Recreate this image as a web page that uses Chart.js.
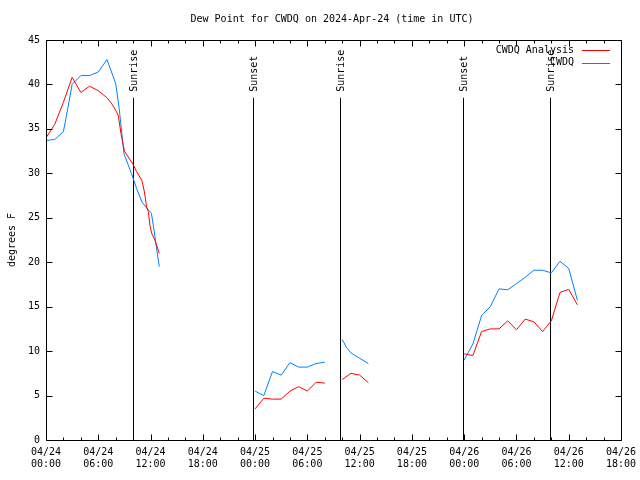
<!DOCTYPE html>
<html>
<head>
<meta charset="utf-8">
<script src="https://cdn.jsdelivr.net/npm/chart.js@4/dist/chart.umd.min.js"></script>
<style>
  html, body { margin: 0; padding: 0; background: #fff; }
  canvas { display: block; }
</style>
</head>
<body>
<canvas id="dewChart" width="640" height="480"></canvas>
<script>
// hours since 04/24 00:00 UTC; null splits the line
const analysisHours = [0, 1, 2, 3, 4, 5, 6, 7, 7.5, 8, 8.3, 8.6, 9, 10, 10.4, 11, 11.3, 11.55, 11.75, 11.95, 12.15, 12.5, 13,
    18,
    24, 25, 26, 27, 28, 29, 30, 31, 32,
    33,
    34, 35, 36, 37,
    42,
    48, 49, 50, 51, 52, 53, 54, 55, 56, 57, 58, 59, 60, 61];
const analysisDew = [34.0, 35.5, 38.0, 40.8, 39.1, 39.8, 39.3, 38.5, 37.9, 37.1, 36.5, 34.5, 32.5, 31.0, 30.2, 29.2, 27.9, 26.2, 25.7, 24.0, 23.2, 22.5, 21.0,
    null,
    3.5, 4.7, 4.6, 4.6, 5.5, 6.0, 5.5, 6.5, 6.4,
    null,
    6.8, 7.5, 7.3, 6.45,
    null,
    9.7, 9.5, 12.2, 12.5, 12.5, 13.4, 12.4, 13.6, 13.3, 12.2, 13.4, 16.6, 16.95, 15.2];

const obsHours = [0, 1, 2, 2.5, 3, 4, 5, 6, 7, 8, 8.4, 8.95, 9.8, 10.4, 11, 11.55, 12.1, 12.4, 12.7, 13,
    18,
    24, 25, 26, 27, 28, 29, 30, 31, 32,
    33,
    34, 34.5, 35, 36, 37,
    42,
    48, 49, 50, 51, 52, 53, 54, 55, 56, 57, 58, 59, 60, 61];
const obsDew = [33.7, 33.8, 34.7, 37.3, 40.0, 41.0, 41.0, 41.4, 42.8, 40.1, 37.3, 32.2, 30.0, 28.3, 26.8, 26.1, 25.5, 23.6, 21.5, 19.5,
    null,
    5.5, 5.0, 7.7, 7.3, 8.7, 8.2, 8.2, 8.6, 8.75,
    null,
    11.3, 10.4, 9.8, 9.2, 8.6,
    null,
    9.0, 10.8, 14.0, 15.0, 17.0, 16.9, 17.6, 18.3, 19.1, 19.1, 18.8, 20.1, 19.3, 15.7];

const eventHours = [9.95, 23.8, 33.8, 47.9, 57.8];
const eventLabels = ["Sunrise", "Sunset", "Sunrise", "Sunset", "Sunrise"];
const eventTop = 38.5;

const dayLabels = ["04/24", "04/25", "04/26"];
const timeLabels = ["00:00", "06:00", "12:00", "18:00"];

const seriesNames = ["CWDQ Analysis", "CWDQ"];
const seriesColors = ["#ff0000", "#0080ff"];

const fontFamily = "'DejaVu Sans Mono', monospace";
Chart.defaults.font.family = fontFamily;
Chart.defaults.font.size = 10;
Chart.defaults.color = "#000";

function toPoints(hours, values)
{
    return hours.map((h, i) => ({x: h, y: values[i]}));
}

const gnuplotLook =
{
    id: "gnuplotLook",
    beforeDatasetsDraw(chart)
    {
        const ctx = chart.ctx;
        const x = chart.scales.x;
        const y = chart.scales.y;
        const area = chart.chartArea;
        ctx.save();
        ctx.strokeStyle = "#000";
        ctx.lineWidth = 1;
        ctx.fillStyle = "#000";
        ctx.font = "10px " + fontFamily;
        eventHours.forEach((h, i) =>
        {
            const px = Math.round(x.getPixelForValue(h)) + 0.5;
            const top = y.getPixelForValue(eventTop);
            ctx.beginPath();
            ctx.moveTo(px, area.bottom);
            ctx.lineTo(px, top);
            ctx.stroke();
            ctx.save();
            ctx.translate(px + 1, top - 6);
            ctx.rotate(-Math.PI / 2);
            ctx.textAlign = "left";
            ctx.textBaseline = "middle";
            ctx.fillText(eventLabels[i], 0, 0);
            ctx.restore();
        });
        ctx.restore();
    },
    afterDatasetsDraw(chart)
    {
        const ctx = chart.ctx;
        const x = chart.scales.x;
        const y = chart.scales.y;
        const area = chart.chartArea;
        ctx.save();
        ctx.strokeStyle = "#000";
        ctx.lineWidth = 1;
        const l = Math.round(area.left) + 0.5;
        const r = Math.round(area.right) + 0.5;
        const t = Math.round(area.top) + 0.5;
        const b = Math.round(area.bottom) + 0.5;
        ctx.beginPath();
        ctx.rect(l, t, r - l, b - t);
        ctx.stroke();

        ctx.beginPath();
        for(const tick of x.ticks)
        {
            const px = Math.round(x.getPixelForValue(tick.value)) + 0.5;
            const len = tick.value % 6 === 0 ? 6 : 3;
            ctx.moveTo(px, b);
            ctx.lineTo(px, b - len);
            ctx.moveTo(px, t);
            ctx.lineTo(px, t + len);
        }
        for(const tick of y.ticks)
        {
            const py = Math.round(y.getPixelForValue(tick.value)) + 0.5;
            ctx.moveTo(l, py);
            ctx.lineTo(l + 6, py);
            ctx.moveTo(r, py);
            ctx.lineTo(r - 6, py);
        }
        ctx.stroke();

        // title and axis title
        ctx.fillStyle = "#000";
        ctx.font = "10px " + fontFamily;
        ctx.textAlign = "center";
        ctx.textBaseline = "middle";
        ctx.fillText("Dew Point for CWDQ on 2024-Apr-24 (time in UTC)", 332, 19);
        ctx.save();
        ctx.translate(12, 240);
        ctx.rotate(-Math.PI / 2);
        ctx.fillText("degrees F", 0, 0);
        ctx.restore();

        // legend
        ctx.textAlign = "right";
        seriesNames.forEach((name, i) =>
        {
            const ly = 50 + i * 12.5;
            ctx.fillStyle = "#000";
            ctx.fillText(name, 574, ly);
            ctx.strokeStyle = seriesColors[i];
            ctx.beginPath();
            ctx.moveTo(582, Math.round(ly) + 0.5);
            ctx.lineTo(610, Math.round(ly) + 0.5);
            ctx.stroke();
        });
        ctx.restore();
    }
};

const configObject =
{
    type: "line",
    data:
    {
        datasets:
        [
            {
                label: seriesNames[0],
                data: toPoints(analysisHours, analysisDew),
                borderColor: seriesColors[0],
                borderWidth: 1,
                pointRadius: 0,
                tension: 0,
                spanGaps: false,
            },
            {
                label: seriesNames[1],
                data: toPoints(obsHours, obsDew),
                borderColor: seriesColors[1],
                borderWidth: 1,
                pointRadius: 0,
                tension: 0,
                spanGaps: false,
            }
        ]
    },
    options:
    {
        responsive: false,
        animation: false,
        devicePixelRatio: 1,
        layout:
        {
            padding: {left: 0, right: 19, top: 40, bottom: 0},
        },
        plugins:
        {
            legend: {display: false},
            tooltip: {enabled: false},
        },
        scales:
        {
            x:
            {
                type: "linear",
                min: 0,
                max: 66,
                grid: {display: false, drawTicks: false},
                border: {display: false},
                ticks:
                {
                    stepSize: 2,
                    autoSkip: false,
                    maxRotation: 0,
                    padding: 6,
                    callback: (value) =>
                    {
                        if(value % 6 !== 0)
                        {
                            return "";
                        }
                        return [dayLabels[Math.floor(value / 24)], timeLabels[(value % 24) / 6]];
                    },
                },
                afterFit: (scale) =>
                {
                    scale.height = 40;
                    scale.paddingLeft = 0;
                    scale.paddingRight = 0;
                },
            },
            y:
            {
                min: 0,
                max: 45,
                grid: {display: false, drawTicks: false},
                border: {display: false},
                ticks:
                {
                    stepSize: 5,
                    padding: 6,
                },
                afterFit: (scale) => { scale.width = 46; },
            }
        }
    },
    plugins: [gnuplotLook]
};

const myChart = new Chart(document.getElementById("dewChart"), configObject);
</script>
</body>
</html>
